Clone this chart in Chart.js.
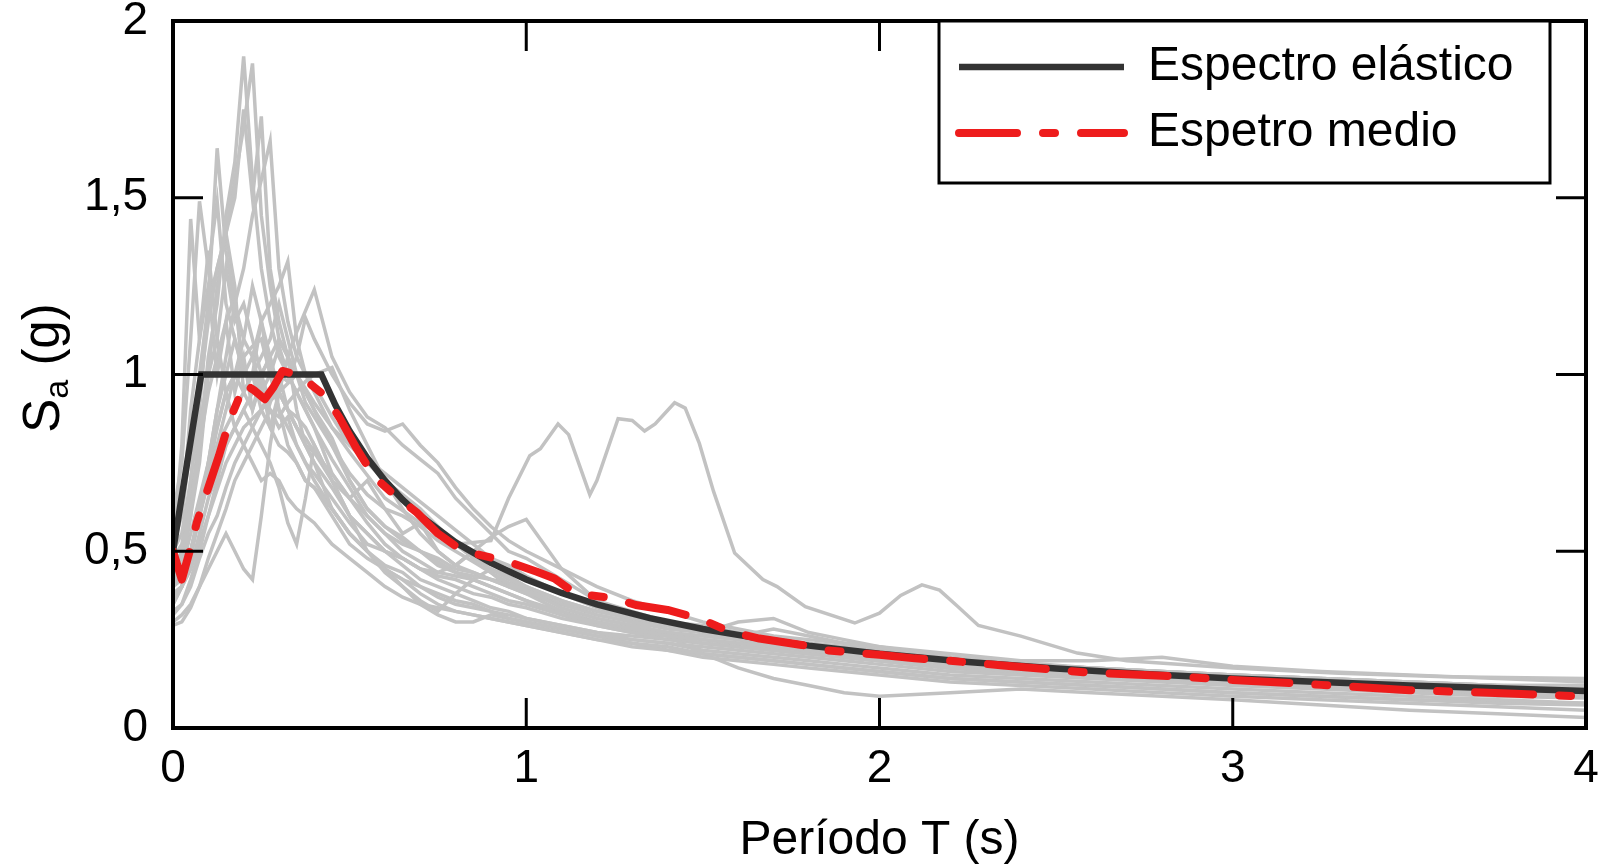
<!DOCTYPE html>
<html>
<head>
<meta charset="utf-8">
<script src="https://cdn.jsdelivr.net/npm/chart.js@4.4.0/dist/chart.umd.min.js"></script>
<style>
  html, body { margin: 0; padding: 0; background: #fff; }
  #wrap { width: 1598px; height: 868px; }
</style>
</head>
<body>
<div id="wrap"><canvas id="chart-spectra"></canvas></div>
<script>
// Response spectra: records, elastic spectrum and mean spectrum

const legendLabels = ['Espectro elástico', 'Espetro medio'];
const xTitle = 'Período T (s)';
const xTicks = [0, 1, 2, 3, 4];
const yTicks = [0, 0.5, 1, 1.5, 2];

// elastic design spectrum
const elasticPeriods = [0, 0.08, 0.42, 0.46, 0.5, 0.55, 0.6, 0.65, 0.7, 0.8, 0.9, 1.0, 1.1, 1.2, 1.35, 1.5, 1.65, 1.8, 2.0, 2.25, 2.5, 2.75, 3.0, 3.5, 4.0];
const elasticValues = [0.5, 1.0, 1.0, 0.913, 0.84, 0.764, 0.70, 0.646, 0.60, 0.525, 0.467, 0.42, 0.382, 0.35, 0.311, 0.28, 0.255, 0.233, 0.21, 0.187, 0.168, 0.153, 0.14, 0.12, 0.105];

// mean spectrum of the records
const meanPeriods = [0, 0.025, 0.05, 0.067, 0.08, 0.1, 0.13, 0.16, 0.185, 0.2, 0.23, 0.26, 0.285, 0.31, 0.35, 0.38, 0.43, 0.47, 0.52, 0.57, 0.62, 0.69, 0.75, 0.8, 0.85, 0.95, 1.03, 1.08, 1.14, 1.25, 1.31, 1.4, 1.5, 1.57, 1.66, 1.78, 1.85, 2.0, 2.1, 2.2, 2.35, 2.6, 2.8, 3.0, 3.25, 3.5, 3.8, 4.0];
const meanValues = [0.50, 0.42, 0.51, 0.58, 0.62, 0.68, 0.77, 0.87, 0.93, 0.975, 0.955, 0.93, 0.965, 1.01, 1.0, 0.98, 0.94, 0.88, 0.79, 0.71, 0.665, 0.61, 0.55, 0.515, 0.494, 0.47, 0.442, 0.423, 0.38, 0.367, 0.348, 0.334, 0.306, 0.275, 0.253, 0.235, 0.22, 0.207, 0.197, 0.19, 0.177, 0.156, 0.148, 0.136, 0.122, 0.107, 0.097, 0.089];

// periods shared by the records
const recPeriods = [0, 0.025, 0.05, 0.075, 0.1, 0.125, 0.15, 0.175, 0.2, 0.225, 0.25, 0.275, 0.3, 0.325, 0.35, 0.375, 0.4, 0.45, 0.5, 0.55, 0.6, 0.65, 0.7, 0.75, 0.8, 0.85, 0.9, 0.95, 1.0, 1.1, 1.2, 1.3, 1.4, 1.5, 1.6, 1.7, 1.8, 1.9, 2.0, 2.2, 2.4, 2.6, 2.8, 3.0, 3.25, 3.5, 3.75, 4.0];

const rec01 = [0.45,0.5,0.62,0.8,1.05,1.2,1.45,1.6, 1.9,1.55,1.3,1.15,1.05,1.0,0.95,0.9,0.85, 0.76,0.68,0.6,0.55,0.5,0.47,0.44,0.43,0.42,0.4,0.38,0.36, 0.32,0.3,0.28,0.26,0.25,0.24,0.23,0.22,0.21,0.2, 0.18,0.16,0.15,0.14,0.13,0.12,0.11,0.1,0.09];
const rec02 = [0.5,0.55,0.7,0.95,1.15,1.3,1.4,1.55, 1.7,1.88,1.45,1.25,1.1,1.05,1.0,0.92,0.88, 0.8,0.72,0.66,0.62,0.6,0.57,0.53,0.5,0.47,0.44,0.41,0.39, 0.34,0.31,0.29,0.27,0.26,0.25,0.24,0.23,0.22,0.21, 0.19,0.17,0.16,0.15,0.14,0.13,0.12,0.11,0.1];
const rec03 = [0.4,0.45,0.6,0.85,1.0,1.25,1.4,1.5, 1.75,1.5,1.73,1.3,1.15,1.05,1.0,0.95,0.9, 0.82,0.7,0.62,0.57,0.54,0.5,0.48,0.45,0.44,0.42,0.4,0.39, 0.35,0.32,0.3,0.28,0.27,0.26,0.24,0.22,0.21,0.2, 0.18,0.17,0.16,0.15,0.14,0.13,0.12,0.115,0.11];
const rec04 = [0.35,0.4,0.5,0.6,0.75,0.9,1.05,1.2, 1.3,1.45,1.55,1.66,1.3,1.15,1.05,1.0,0.97, 0.88,0.8,0.75,0.7,0.66,0.62,0.57,0.52,0.48,0.45,0.42,0.4, 0.36,0.33,0.31,0.29,0.27,0.25,0.23,0.22,0.21,0.2, 0.18,0.165,0.15,0.14,0.13,0.12,0.11,0.1,0.095];
const rec05 = [0.55,0.6,0.8,1.0,1.2,1.64,1.35,1.2, 1.1,1.25,1.15,1.0,0.95,0.9,0.85,0.82,0.78, 0.72,0.65,0.58,0.52,0.48,0.45,0.42,0.4,0.38,0.37,0.35,0.34, 0.31,0.29,0.27,0.26,0.24,0.23,0.22,0.21,0.2,0.19, 0.17,0.16,0.15,0.14,0.13,0.12,0.11,0.1,0.09];
const rec06 = [0.6,0.75,1.1,1.49,1.3,1.49,1.2,1.1, 1.0,1.05,0.95,0.9,0.85,0.88,0.8,0.75,0.72, 0.65,0.58,0.52,0.5,0.46,0.42,0.4,0.38,0.36,0.34,0.33,0.31, 0.29,0.27,0.25,0.24,0.23,0.22,0.21,0.2,0.19,0.18, 0.16,0.15,0.14,0.13,0.12,0.11,0.1,0.09,0.085];
const rec07 = [0.5,0.8,1.44,1.1,1.25,1.0,1.15,0.95, 1.05,0.9,0.98,0.85,0.8,0.78,0.75,0.7,0.68, 0.62,0.55,0.5,0.46,0.44,0.4,0.37,0.35,0.34,0.33,0.31,0.3, 0.28,0.26,0.25,0.24,0.22,0.21,0.2,0.19,0.18,0.17, 0.15,0.14,0.13,0.12,0.11,0.1,0.09,0.08,0.07];
const rec08 = [0.42,0.45,0.55,0.65,0.75,0.85,0.95,1.0, 1.1,1.05,1.15,1.2,1.25,1.32,1.1,1.0,0.95, 0.85,0.8,0.76,0.72,0.68,0.64,0.6,0.56,0.52,0.48,0.46,0.43, 0.38,0.34,0.31,0.29,0.27,0.3,0.31,0.27,0.25,0.23, 0.2,0.18,0.17,0.16,0.15,0.14,0.13,0.12,0.115];
const rec09 = [0.38,0.4,0.45,0.55,0.65,0.72,0.8,0.85, 0.9,0.95,1.0,1.05,1.1,1.05,1.12,1.18,1.24, 1.05,0.95,0.88,0.85,0.8,0.76,0.72,0.65,0.6,0.55,0.5,0.48, 0.42,0.36,0.33,0.3,0.28,0.27,0.25,0.24,0.23,0.22, 0.2,0.185,0.17,0.16,0.15,0.14,0.13,0.12,0.12];
const rec10 = [0.33,0.35,0.4,0.48,0.55,0.6,0.68,0.75, 0.8,0.85,0.9,0.95,1.0,0.98,1.05,1.16,1.1, 1.0,0.92,0.86,0.84,0.86,0.8,0.75,0.68,0.62,0.57,0.53,0.5, 0.45,0.4,0.36,0.33,0.3,0.28,0.26,0.25,0.24,0.23, 0.21,0.19,0.19,0.2,0.175,0.16,0.15,0.14,0.13];
const rec11 = [0.48,0.52,0.65,0.8,0.95,1.05,1.15,1.22, 1.0,1.0,0.9,0.85,0.95,1.05,0.9,0.8,0.75, 0.68,0.6,0.55,0.5,0.48,0.45,0.43,0.42,0.4,0.38,0.36,0.35, 0.32,0.29,0.27,0.25,0.24,0.23,0.22,0.21,0.2,0.19, 0.17,0.155,0.145,0.135,0.125,0.115,0.105,0.095,0.09];
const rec12 = [0.3,0.32,0.35,0.4,0.45,0.5,0.55,0.5, 0.45,0.42,0.6,0.8,0.95,0.9,0.85,0.8,0.75, 0.62,0.55,0.5,0.45,0.42,0.38,0.35,0.33,0.32,0.31,0.3,0.29, 0.27,0.25,0.23,0.22,0.2,0.19,0.18,0.17,0.16,0.15, 0.13,0.12,0.11,0.1,0.09,0.08,0.07,0.06,0.05];
const rec13 = [0.32,0.35,0.42,0.5,0.6,0.7,0.8,0.85, 0.9,0.85,0.8,0.75,0.68,0.58,0.52,0.65,0.8, 0.7,0.6,0.5,0.45,0.4,0.35,0.32,0.3,0.3,0.32,0.31,0.3, 0.28,0.26,0.24,0.23,0.21,0.2,0.19,0.18,0.17,0.16, 0.14,0.13,0.12,0.11,0.1,0.09,0.08,0.07,0.065];
const rec14 = [0.36,0.4,0.48,0.6,0.7,0.8,0.9,1.0, 1.05,1.08,1.1,1.0,0.9,0.85,0.8,0.75,0.7, 0.62,0.55,0.5,0.44,0.4,0.36,0.33,0.38,0.42,0.45,0.43,0.4, 0.34,0.31,0.29,0.27,0.25,0.24,0.23,0.22,0.21,0.2, 0.18,0.16,0.15,0.14,0.13,0.12,0.11,0.1,0.1];
const rec15 = [0.4,0.45,0.5,0.6,0.72,0.85,0.95,1.0, 0.95,0.9,1.0,1.05,0.95,0.9,0.88,0.85,0.8, 0.7,0.6,0.55,0.5,0.48,0.45,0.44,0.46,0.5,0.54,0.57,0.59, 0.45,0.36,0.3,0.26,0.21,0.17,0.14,0.12,0.1,0.09, 0.1,0.11,0.1,0.09,0.08,0.065,0.05,0.04,0.03];
const rec16 = [0.45,0.48,0.6,0.75,1.0,1.1,1.3,1.15, 1.2,1.1,1.0,0.92,1.0,0.9,0.85,0.8,0.78, 0.7,0.65,0.6,0.55,0.52,0.5,0.47,0.44,0.43,0.42,0.4,0.38, 0.35,0.32,0.3,0.29,0.27,0.26,0.28,0.26,0.24,0.22, 0.2,0.18,0.17,0.16,0.15,0.14,0.13,0.12,0.12];
const rec17 = [0.4,0.42,0.5,0.62,0.75,0.9,1.0,1.1, 1.0,1.0,0.95,1.0,1.08,1.0,0.95,0.9,0.85, 0.72,0.65,0.7,0.62,0.55,0.58,0.5,0.46,0.5,0.44,0.4,0.38, 0.33,0.3,0.28,0.27,0.26,0.25,0.24,0.22,0.2,0.19, 0.17,0.16,0.15,0.14,0.13,0.125,0.12,0.11,0.105];
const rec18 = [0.42,0.5,0.7,0.9,1.2,1.3,1.4,1.25, 0.95,1.0,1.15,1.05,0.9,0.8,0.75,0.7,0.68, 0.6,0.52,0.48,0.45,0.42,0.4,0.38,0.36,0.35,0.33,0.32,0.31, 0.29,0.27,0.26,0.25,0.24,0.23,0.22,0.21,0.2,0.19, 0.17,0.16,0.15,0.14,0.13,0.12,0.11,0.1,0.095];
const rec19 = [0.29,0.3,0.34,0.4,0.48,0.55,0.62,0.7, 0.75,0.8,0.85,0.9,0.88,0.92,0.95,0.98,1.0, 1.02,0.9,0.8,0.7,0.62,0.55,0.5,0.46,0.44,0.42,0.41,0.4, 0.36,0.33,0.31,0.3,0.29,0.27,0.25,0.24,0.23,0.22, 0.2,0.18,0.17,0.16,0.15,0.14,0.13,0.12,0.11];
const rec20 = [0.38,0.4,0.5,0.6,0.7,0.8,0.85,0.9, 0.95,1.0,1.05,1.1,1.2,1.1,1.0,0.95,0.9, 0.8,0.7,0.62,0.57,0.53,0.5,0.46,0.44,0.42,0.4,0.38,0.36, 0.33,0.3,0.28,0.26,0.25,0.24,0.23,0.22,0.21,0.2, 0.18,0.165,0.155,0.145,0.135,0.125,0.115,0.105,0.1];
const rec21 = [0.52,0.6,0.9,1.1,1.35,1.1,0.95,0.85, 0.8,0.75,0.7,0.72,0.7,0.65,0.62,0.6,0.58, 0.52,0.48,0.44,0.4,0.37,0.35,0.34,0.33,0.32,0.31,0.3,0.29, 0.27,0.25,0.24,0.22,0.21,0.2,0.19,0.18,0.17,0.16, 0.14,0.13,0.12,0.11,0.1,0.09,0.08,0.075,0.07];

// long-period record (own period steps)
const longPeriods = [0, 0.05, 0.1, 0.15, 0.2, 0.25, 0.3, 0.35, 0.4, 0.45, 0.5, 0.6, 0.7, 0.8, 0.9, 0.95, 1.01, 1.04, 1.09, 1.12, 1.18, 1.2, 1.26, 1.3, 1.335, 1.365, 1.42, 1.45, 1.49, 1.53, 1.59, 1.67, 1.71, 1.79, 1.93, 2.0, 2.06, 2.12, 2.17, 2.22, 2.28, 2.4, 2.56, 2.7, 3.0, 3.3, 3.6, 4.0];
const longValues = [0.35, 0.45, 0.6, 0.75, 0.85, 0.9, 0.95, 1.0, 0.92, 0.85, 0.78, 0.65, 0.58, 0.52, 0.53, 0.65, 0.77, 0.79, 0.86, 0.83, 0.66, 0.70, 0.875, 0.87, 0.84, 0.86, 0.92, 0.905, 0.805, 0.67, 0.495, 0.42, 0.40, 0.343, 0.297, 0.325, 0.375, 0.405, 0.39, 0.345, 0.29, 0.26, 0.212, 0.19, 0.17, 0.155, 0.145, 0.14];

const records = [rec01, rec02, rec03, rec04, rec05, rec06, rec07, rec08, rec09, rec10, rec11,
                 rec12, rec13, rec14, rec15, rec16, rec17, rec18, rec19, rec20, rec21];

const toPoints = (xs, ys) => xs.map((x, i) => ({x: x, y: ys[i]}));
const fmt = v => String(v).replace('.', ',');

const FONT = '"Liberation Sans", Arial, sans-serif';
const GRAY = '#c2c2c2';
const DARK = '#333333';
const RED = '#ee1c1c';
const redDash = [58, 26, 12, 26];

const datasets = [
  {
    label: legendLabels[1],
    data: toPoints(meanPeriods, meanValues),
    borderColor: RED,
    borderWidth: 8,
    borderDash: redDash,
    borderCapStyle: 'round',
    borderJoinStyle: 'round',
    pointRadius: 0,
    tension: 0
  },
  {
    label: legendLabels[0],
    data: toPoints(elasticPeriods, elasticValues),
    borderColor: DARK,
    borderWidth: 6.5,
    borderJoinStyle: 'miter',
    pointRadius: 0,
    tension: 0
  }
];

records.forEach((r, i) => {
  datasets.push({
    label: 'rec' + (i + 1),
    data: toPoints(recPeriods, r),
    borderColor: GRAY,
    borderWidth: 3.5,
    pointRadius: 0,
    tension: 0
  });
});
datasets.push({
  label: 'rec-long',
  data: toPoints(longPeriods, longValues),
  borderColor: GRAY,
  borderWidth: 3.5,
  pointRadius: 0,
  tension: 0
});

// frame, inward ticks, legend box and y title
const framePlugin = {
  id: 'framePlugin',
  afterDatasetsDraw(chart) {
    const {ctx, chartArea: a, scales} = chart;
    const tickLen = 30;
    ctx.save();
    ctx.strokeStyle = '#000';
    ctx.lineWidth = 3;
    ctx.beginPath();
    xTicks.forEach(v => {
      const px = scales.x.getPixelForValue(v);
      ctx.moveTo(px, a.bottom); ctx.lineTo(px, a.bottom - tickLen);
      ctx.moveTo(px, a.top); ctx.lineTo(px, a.top + tickLen);
    });
    yTicks.forEach(v => {
      const py = scales.y.getPixelForValue(v);
      ctx.moveTo(a.left, py); ctx.lineTo(a.left + tickLen, py);
      ctx.moveTo(a.right, py); ctx.lineTo(a.right - tickLen, py);
    });
    ctx.stroke();
    ctx.lineWidth = 4;
    ctx.strokeRect(a.left, a.top, a.right - a.left, a.bottom - a.top);

    // legend
    const lx = a.right - 647, ly = a.top, lw = 611, lh = 162;
    ctx.fillStyle = '#fff';
    ctx.fillRect(lx, ly, lw, lh);
    ctx.lineWidth = 3;
    ctx.strokeRect(lx, ly, lw, lh);
    const rows = [
      {text: legendLabels[0], color: DARK, width: 6.5, dash: [], cap: 'butt', y: ly + 46},
      {text: legendLabels[1], color: RED, width: 8, dash: redDash, cap: 'round', y: ly + 112}
    ];
    rows.forEach(r => {
      ctx.beginPath();
      ctx.strokeStyle = r.color;
      ctx.lineWidth = r.width;
      ctx.lineCap = r.cap;
      ctx.setLineDash(r.dash);
      ctx.moveTo(lx + 20, r.y);
      ctx.lineTo(lx + 185, r.y);
      ctx.stroke();
      ctx.setLineDash([]);
      ctx.fillStyle = '#000';
      ctx.font = '48px ' + FONT;
      ctx.textAlign = 'left';
      ctx.textBaseline = 'middle';
      ctx.fillText(r.text, lx + 209, r.y);
    });

    // y axis title with subscript
    ctx.translate(59, 368);
    ctx.rotate(-Math.PI / 2);
    ctx.textBaseline = 'alphabetic';
    const big = '51px ' + FONT;
    const small = '34px ' + FONT;
    ctx.font = big;
    const wS = ctx.measureText('S').width;
    const wG = ctx.measureText(' (g)').width;
    ctx.font = small;
    const wA = ctx.measureText('a').width;
    const x0 = -(wS + wA + wG) / 2;
    ctx.font = big;
    ctx.fillText('S', x0, 0);
    ctx.font = small;
    ctx.fillText('a', x0 + wS, 9);
    ctx.font = big;
    ctx.fillText(' (g)', x0 + wS + wA, 0);
    ctx.restore();
  }
};

const configSpectra = {
  type: 'line',
  data: { datasets: datasets },
  options: {
    responsive: true,
    maintainAspectRatio: false,
    animation: false,
    layout: { padding: { left: 0, right: 12, top: 21, bottom: 0 } },
    scales: {
      x: {
        type: 'linear',
        min: 0,
        max: 4,
        afterFit: s => { s.height = 140; s.paddingLeft = 0; s.paddingRight = 0; },
        afterBuildTicks: s => { s.ticks = xTicks.map(v => ({value: v})); },
        grid: { display: false, drawTicks: false },
        border: { display: false },
        ticks: {
          padding: 14,
          color: '#000',
          font: { family: FONT, size: 46 },
          callback: v => fmt(v),
          maxRotation: 0
        },
        title: {
          display: true,
          text: xTitle,
          color: '#000',
          font: { family: FONT, size: 48, lineHeight: 1 },
          padding: { top: 0, bottom: 3 }
        }
      },
      y: {
        type: 'linear',
        min: 0,
        max: 2,
        afterFit: s => { s.width = 173; s.paddingTop = 0; s.paddingBottom = 0; },
        afterBuildTicks: s => { s.ticks = yTicks.map(v => ({value: v})); },
        grid: { display: false, drawTicks: false },
        border: { display: false },
        ticks: {
          padding: 25,
          color: '#000',
          font: { family: FONT, size: 46 },
          callback: v => fmt(v)
        }
      }
    },
    plugins: {
      legend: { display: false },
      tooltip: { enabled: false }
    }
  },
  plugins: [framePlugin]
};

const chartSpectra = new Chart(
  document.getElementById('chart-spectra'),
  configSpectra
);
</script>
</body>
</html>
